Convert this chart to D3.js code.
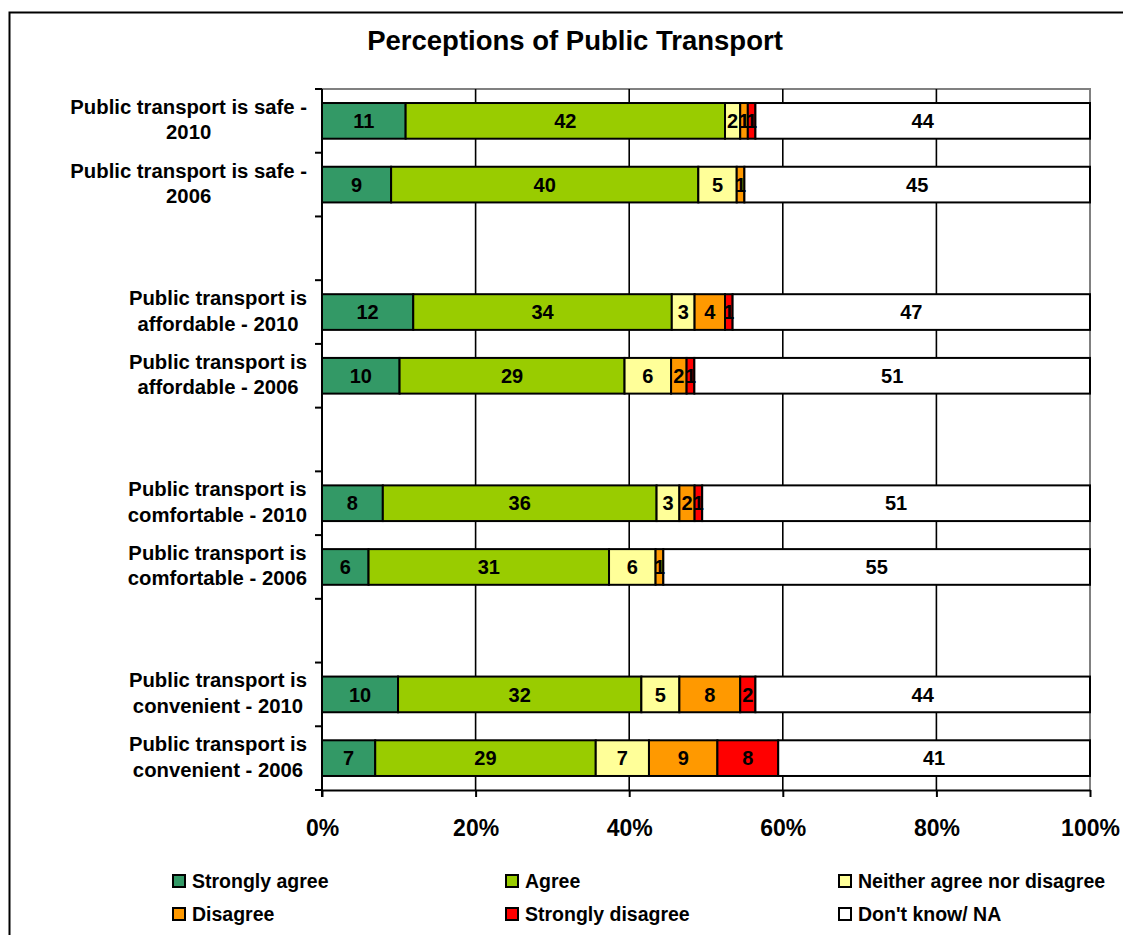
<!DOCTYPE html>
<html>
<head>
<meta charset="utf-8">
<script src="https://cdn.jsdelivr.net/npm/d3@7"></script>
<style>
  body { margin: 0; background: #fff; }
  svg { display: block; }
  text { font-family: "Liberation Sans", Arial, sans-serif; font-weight: bold; fill: #000; }
</style>
</head>
<body>
<svg id="chart" width="1123" height="935"></svg>
<script>
// Survey statements (label lines as wrapped on the chart)
const categories = [
  "Public transport is safe -\n2010",
  "Public transport is safe -\n2006",
  "Public transport is\naffordable - 2010",
  "Public transport is\naffordable - 2006",
  "Public transport is\ncomfortable - 2010",
  "Public transport is\ncomfortable - 2006",
  "Public transport is\nconvenient - 2010",
  "Public transport is\nconvenient - 2006"
];
// Row layout top to bottom; null rows are blank spacers between statement pairs
const rowOrder = [0, 1, null, 2, 3, null, 4, 5, null, 6, 7];

// Responses (%), one value per statement
const stronglyAgree    = [11,  9, 12, 10,  8,  6, 10,  7];
const agree            = [42, 40, 34, 29, 36, 31, 32, 29];
const neither          = [ 2,  5,  3,  6,  3,  6,  5,  7];
const disagree         = [ 1,  1,  4,  2,  2,  1,  8,  9];
const stronglyDisagree = [ 1,  0,  1,  1,  1,  0,  2,  8];
const dontKnow         = [44, 45, 47, 51, 51, 55, 44, 41];

const seriesNames  = ["Strongly agree", "Agree", "Neither agree nor disagree", "Disagree", "Strongly disagree", "Don't know/ NA"];
const seriesColors = ["#339966", "#99CC00", "#FFFF99", "#FF9900", "#FF0000", "#FFFFFF"];
const xTicks = [0, 0.2, 0.4, 0.6, 0.8, 1];

const seriesValues = [stronglyAgree, agree, neither, disagree, stronglyDisagree, dontKnow];
const rows = categories.map((c, i) => {
  const r = { idx: i, label: c };
  seriesNames.forEach((s, j) => r[s] = seriesValues[j][i]);
  return r;
});

const svg = d3.select("#chart");

// Outer chart frame
svg.append("rect")
  .attr("x", 9.5).attr("y", 12.5).attr("width", 1125).attr("height", 940)
  .attr("fill", "none").attr("stroke", "#000").attr("stroke-width", 2);

// Title
svg.append("text")
  .attr("x", 575).attr("y", 50)
  .attr("text-anchor", "middle")
  .style("font-size", "27.5px")
  .text("Perceptions of Public Transport");

const plot = { left: 322, right: 1090, top: 89, bottom: 790 };

const x = d3.scaleLinear().domain([0, 1]).range([plot.left, plot.right]);
const y = d3.scaleBand()
  .domain(d3.range(rowOrder.length))
  .range([plot.top, plot.bottom])
  .paddingInner(0.44).paddingOuter(0.22);
const step = y.step();
const rowY = i => y(rowOrder.indexOf(i));

// Plot area border (top and right)
svg.append("path")
  .attr("d", `M${plot.left},${plot.top}H${plot.right}V${plot.bottom}`)
  .attr("fill", "none").attr("stroke", "#808080").attr("stroke-width", 2);

// Vertical gridlines
svg.append("g").selectAll("line")
  .data(xTicks.filter(t => t > 0 && t < 1))
  .join("line")
  .attr("x1", d => x(d)).attr("x2", d => x(d))
  .attr("y1", plot.top).attr("y2", plot.bottom)
  .attr("stroke", "#000").attr("stroke-width", 1.6);

// Stacked, normalised to 100%
const stack = d3.stack().keys(seriesNames).offset(d3.stackOffsetExpand);
const stacked = stack(rows);

const gBars = svg.append("g");
stacked.forEach((layer, j) => {
  gBars.append("g").selectAll("rect")
    .data(layer)
    .join("rect")
    .attr("x", d => x(d[0]))
    .attr("y", d => rowY(d.data.idx))
    .attr("width", d => x(d[1]) - x(d[0]))
    .attr("height", y.bandwidth())
    .attr("fill", seriesColors[j])
    .attr("stroke", "#000")
    .attr("stroke-width", 2);
});

// Value labels
stacked.forEach((layer, j) => {
  svg.append("g").selectAll("text")
    .data(layer.filter(d => d.data[seriesNames[j]] > 0))
    .join("text")
    .attr("x", d => (x(d[0]) + x(d[1])) / 2)
    .attr("y", d => rowY(d.data.idx) + y.bandwidth() / 2)
    .attr("dy", "0.36em")
    .attr("text-anchor", "middle")
    .style("font-size", "20px")
    .text(d => d.data[seriesNames[j]]);
});

// Category axis line and boundary ticks
svg.append("line")
  .attr("x1", plot.left).attr("x2", plot.left)
  .attr("y1", plot.top).attr("y2", plot.bottom + 7)
  .attr("stroke", "#000").attr("stroke-width", 2);
svg.append("g").selectAll("line")
  .data(d3.range(rowOrder.length + 1))
  .join("line")
  .attr("x1", plot.left - 7).attr("x2", plot.left)
  .attr("y1", k => plot.top + k * step).attr("y2", k => plot.top + k * step)
  .attr("stroke", "#000").attr("stroke-width", 2);

// Category labels: wrapped lines centred within a right-aligned block
const labelRight = 307;
const gLab = svg.append("g");
rows.forEach(r => {
  const lines = r.label.split("\n");
  const cy = rowY(r.idx) + y.bandwidth() / 2;
  const t = gLab.append("text").style("font-size", "20.3px").attr("text-anchor", "middle");
  const spans = lines.map((ln, k) =>
    t.append("tspan").attr("y", cy + (k === 0 ? -7 : 18.5)).text(ln));
  const maxW = d3.max(spans, s => s.node().getComputedTextLength());
  spans.forEach(s => s.attr("x", labelRight - maxW / 2));
});

// Value axis
const xAxis = d3.axisBottom(x).tickValues(xTicks).tickFormat(d3.format(".0%")).tickSize(7).tickSizeOuter(0);
const gx = svg.append("g").attr("transform", `translate(0,${plot.bottom})`).call(xAxis);
gx.select(".domain").attr("stroke", "#000").attr("stroke-width", 2);
gx.selectAll(".tick line").attr("stroke", "#000").attr("stroke-width", 2);
gx.selectAll(".tick text")
  .attr("y", 45.5).attr("dy", 0)
  .style("font-size", "23px")
  .style("font-family", "\"Liberation Sans\", Arial, sans-serif")
  .style("font-weight", "bold")
  .attr("fill", "#000");

// Legend
const legendCols = [173, 506, 839];
const legendRows = [875, 908];
const gLeg = svg.append("g");
seriesNames.forEach((name, j) => {
  const lx = legendCols[j % 3], ly = legendRows[Math.floor(j / 3)];
  gLeg.append("rect")
    .attr("x", lx).attr("y", ly).attr("width", 12).attr("height", 12)
    .attr("fill", seriesColors[j]).attr("stroke", "#000").attr("stroke-width", 2);
  gLeg.append("text")
    .attr("x", lx + 19).attr("y", ly + 13)
    .style("font-size", "19.5px")
    .text(name);
});
</script>
</body>
</html>
